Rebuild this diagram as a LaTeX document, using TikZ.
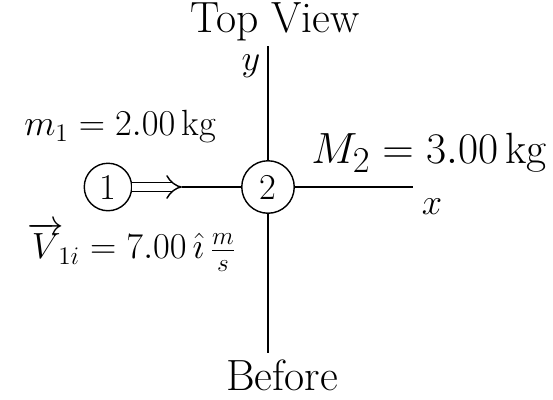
\documentclass[tikz,border=0pt]{standalone}
\usetikzlibrary{arrows.meta}
\tikzset{
  ball/.style={draw,circle,thick,minimum size=0.95cm,inner sep=0pt,font=\huge},
  lbl/.style={font=\huge},
  biglbl/.style={font=\Huge}
}
\begin{document}
\begin{tikzpicture}[x=0.02cm,y=-0.02cm]
\useasboundingbox (0,0) rectangle (553,399);
\node[biglbl,inner sep=1pt] (title) at (275,22) {Top View};
\node[lbl,inner sep=1pt] (ylab) at (251,66) {$y$};
\node[ball] (one) at (108,187) {1};
\node[ball,minimum size=1.05cm] (two) at (268,187) {2};
\coordinate (ytop) at (268,46);
\coordinate (ybot) at (268,353);
\coordinate (tip) at (182,187);
\coordinate (xend) at (413,187);
\draw[thick] (ytop) -- (two) -- (ybot);
\draw[thick] (tip) -- (two) -- (xend);
\draw[thick,double,double distance=4pt,-{Implies}] (one) -- (tip);
\node[lbl] (xlab) at (432,207) {$x$};
\node[lbl] (mone) at (120,127) {$m_1 = 2.00\,$kg};
\node[biglbl] (mtwo) at (429,153) {$M_2 = 3.00\,$kg};
\node[lbl] (vone) at (132,247) {$\overrightarrow{V}\!_{1i} = 7.00\,\hat{\imath}\,\frac{m}{s}$};
\node[biglbl] (before) at (282,375) {Before};
\end{tikzpicture}
\end{document}
